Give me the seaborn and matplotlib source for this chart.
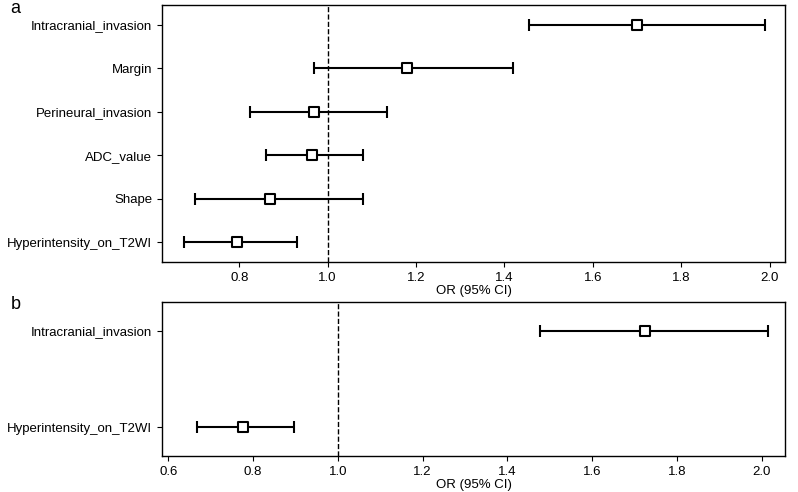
import matplotlib
matplotlib.use("Agg")
import matplotlib.pyplot as plt
import seaborn as sns
import pandas as pd

vars_a = ["Intracranial_invasion", "Margin", "Perineural_invasion", "ADC_value", "Shape", "Hyperintensity_on_T2WI"]
or_a = [1.70, 1.18, 0.97, 0.965, 0.87, 0.795]
lo_a = [1.455, 0.97, 0.825, 0.86, 0.70, 0.675]
hi_a = [1.99, 1.42, 1.135, 1.08, 1.08, 0.93]

vars_b = ["Intracranial_invasion", "Hyperintensity_on_T2WI"]
or_b = [1.725, 0.775]
lo_b = [1.478, 0.667]
hi_b = [2.015, 0.897]

sns.set_style("ticks")
plt.rcParams.update({"font.family": "Liberation Sans", "text.color": "black",
                     "axes.edgecolor": "black", "xtick.color": "black", "ytick.color": "black",
                     "axes.labelcolor": "black"})
fig = plt.figure(figsize=(7.98, 4.92), dpi=100)
axa = fig.add_axes([162/798, 1-262/492, 623/798, 257/492])
axb = fig.add_axes([162/798, 1-456/492, 623/798, 154/492])

def panel(ax, names, o, lo, hi, xlim, ticks, label):
    df = pd.DataFrame({"var": names, "OR": o, "lo": lo, "hi": hi})
    ypos = list(range(len(names)))
    ax.errorbar(df["OR"], ypos, xerr=[df["OR"] - df["lo"], df["hi"] - df["OR"]],
                fmt="none", ecolor="black", elinewidth=1.5, capsize=4, capthick=1.5, zorder=2)
    sns.scatterplot(x=df["OR"], y=ypos, marker="s", s=45, facecolor="white",
                    edgecolor="black", linewidth=1.5, ax=ax, zorder=3)
    ax.axvline(1.0, color="black", linestyle="--", linewidth=1)
    ax.set_yticks(ypos)
    ax.set_yticklabels(names, fontsize=9.5)
    ax.set_xlim(*xlim)
    ax.set_xticks(ticks)
    ax.set_xticklabels([f"{t:.1f}" for t in ticks], fontsize=9.5)
    ax.set_xlabel("OR (95% CI)", fontsize=9.5, labelpad=1)
    ax.set_ylabel("")
    for s in ax.spines.values():
        s.set_linewidth(1)
    ax.text(-0.243, 1.0, label, transform=ax.transAxes, fontsize=13, va="center")

panel(axa, vars_a, or_a, lo_a, hi_a, (0.625, 2.035), [0.8, 1.0, 1.2, 1.4, 1.6, 1.8, 2.0], "a")
axa.set_ylim(5.45, -0.45)
panel(axb, vars_b, or_b, lo_b, hi_b, (0.585, 2.055), [0.6, 0.8, 1.0, 1.2, 1.4, 1.6, 1.8, 2.0], "b")
axb.set_ylim(1.3, -0.3)
axa.texts[0].set_position((-0.243, 0.985))
axb.texts[0].set_position((-0.243, 0.985))

fig.savefig("out.png", dpi=100)
